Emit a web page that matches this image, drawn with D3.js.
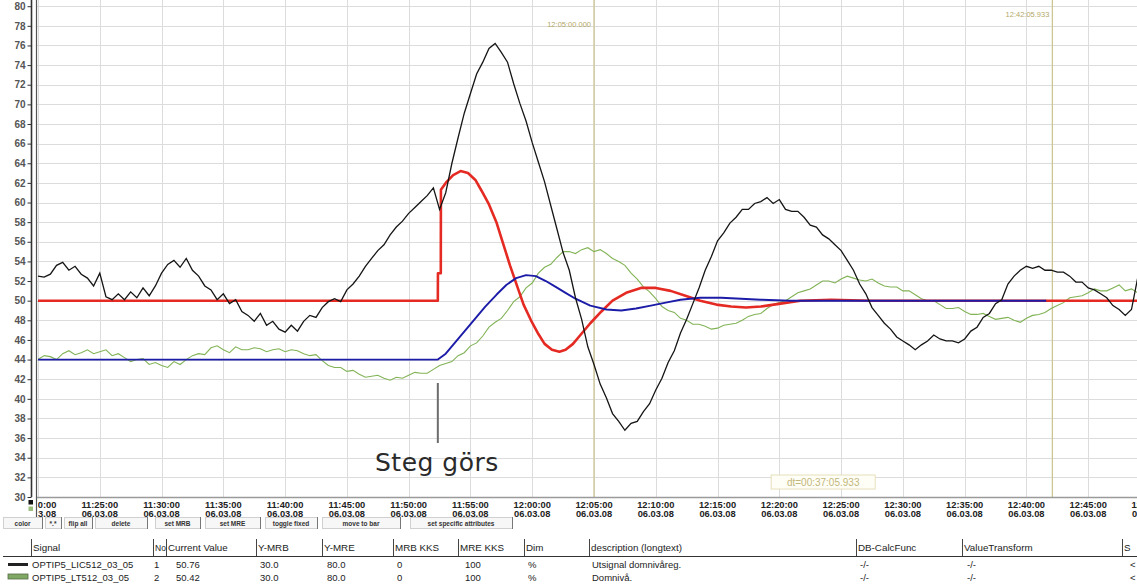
<!DOCTYPE html>
<html>
<head>
<meta charset="utf-8">
<script src="https://cdn.jsdelivr.net/npm/d3@7"></script>
<style>
  html, body { margin: 0; padding: 0; background: #fff; }
  svg { display: block; }
</style>
</head>
<body>
<svg id="chart" width="1137" height="585"></svg>
<script>
// ---- Trend data: level loop, step in the controller at 11:52:22 -------------
const windowStart = "2008-03-06T11:20:00";
const windowEnd   = "2008-03-06T12:50:00";

// Y ticks (percent)
const yTickValues = [30,32,34,36,38,40,42,44,46,48,50,52,54,56,58,60,62,64,66,68,70,72,74,76,78,80];

// Controller output (black), sampled every 0.5 min from 11:20:00
const outputPeriodMin = 0.5;
const outputValues = [
  52.5,52.4,52.7,53.6,53.9,53.1,53.5,52.7,52.3,51.5,
  52.8,50.4,50.1,50.7,50.1,50.9,50.3,51.3,50.5,51.5,
  52.8,53.7,54.1,53.4,54.3,53.1,52.5,51.5,51.1,50.1,
  50.7,49.7,50.1,48.9,48.5,47.9,48.7,47.5,47.9,47.1,
  46.8,47.5,46.9,47.9,48.5,48.3,49.3,49.9,50.2,49.9,
  51.1,51.7,52.5,53.5,54.3,55.1,55.7,56.7,57.5,58.1,
  58.9,59.5,60.1,60.7,61.5,59.3,61.0,64.0,66.6,69.1,
  71.1,73.1,74.3,75.7,76.2,75.3,74.3,72.1,70.1,68.3,
  66.1,64.1,62.1,59.7,57.3,54.9,53.1,50.3,48.1,45.3,
  43.5,41.5,40.1,38.5,37.7,36.8,37.5,37.7,38.7,39.5,
  40.9,42.1,43.7,44.9,46.7,48.1,49.7,51.3,53.1,54.5,
  56.1,56.9,57.9,58.5,59.3,59.3,59.9,60.1,60.5,59.9,
  60.3,59.3,59.1,59.1,58.5,57.7,57.5,56.7,56.3,55.7,
  55.1,54.1,53.1,51.7,50.7,49.3,48.5,47.7,47.1,46.3,
  45.9,45.5,45.0,45.5,45.9,46.5,46.1,45.9,45.9,45.7,
  46.1,46.9,47.3,48.3,48.7,49.7,50.1,51.7,52.5,53.1,
  53.5,53.3,53.5,53.1,53.1,52.9,52.9,52.5,51.9,51.9,
  51.3,51.1,50.7,50.3,49.5,49.1,48.5,49.1,52.3,52.7
];

// Level (green), sampled every 0.5 min from 11:20:00
const levelPeriodMin = 0.5;
const levelValues = [
  44.0,44.4,44.3,44.0,44.6,44.9,44.5,44.7,45.0,44.6,
  44.8,45.0,44.4,44.6,44.2,43.8,44.0,44.1,43.5,43.7,
  43.4,43.2,43.8,43.5,44.0,44.4,44.6,44.5,45.2,45.4,
  45.0,44.7,45.3,45.0,45.0,45.2,45.1,44.8,45.0,45.1,
  44.8,45.0,44.9,44.6,44.4,44.5,43.9,43.4,43.2,43.2,
  42.8,42.9,42.5,42.2,42.3,42.4,42.1,41.9,42.2,42.1,
  42.4,42.7,42.6,42.6,43.0,43.4,43.6,43.8,44.4,44.7,
  45.4,45.7,46.4,47.3,47.8,48.2,49.0,49.9,50.4,51.3,
  51.8,52.8,53.4,53.7,54.4,55.0,55.0,54.8,55.2,55.4,
  55.0,55.2,54.8,54.3,54.0,53.6,52.8,52.2,51.4,50.9,
  50.2,49.4,49.0,48.8,48.2,48.0,47.6,47.6,47.4,47.1,
  47.2,47.5,47.6,47.7,48.0,48.4,48.6,48.7,49.2,49.6,
  49.8,50.0,50.4,50.8,51.0,51.2,51.6,52.0,52.0,51.8,
  52.2,52.5,52.3,52.1,52.0,52.2,51.8,51.5,51.4,51.4,
  51.0,51.0,50.6,50.2,50.0,50.0,49.6,49.2,49.2,49.3,
  48.9,48.6,48.6,48.7,48.4,48.1,48.2,48.3,48.0,47.8,
  48.2,48.5,48.6,48.8,49.2,49.5,49.8,50.3,50.4,50.5,
  50.8,51.2,51.0,51.0,51.3,51.6,51.0,51.2,50.8,51.0,
  50.8
];

// Setpoint response (red): minutes after 11:20:00 and value
const redMinutes = [0,32.36,32.37,32.6,32.61,33.0,33.6,34.2,34.8,35.4,35.9,36.5,37.1,37.6,38.2,38.8,39.3,39.9,40.5,41.0,41.6,42.2,42.7,43.3,43.9,44.7,45.6,46.5,47.6,48.8,50.0,51.2,52.4,53.6,54.9,56.1,57.3,58.5,60.1,61.7,64.2,67.4,90];
const redValues  = [50,50,52.8,52.8,61.3,62.0,62.8,63.2,63.0,62.3,61.2,59.8,58.0,56.0,53.6,51.4,49.6,48.0,46.6,45.6,45.0,44.8,45.0,45.6,46.5,47.7,48.9,50.0,50.8,51.3,51.3,51.0,50.5,50.0,49.6,49.4,49.3,49.4,49.7,50.0,50.1,50.0,50.0];

// Model response (blue): minutes after 11:20:00 and value
const blueMinutes = [0,32.36,33.0,33.8,34.6,35.4,36.2,37.1,37.9,38.7,39.5,40.3,41.1,41.9,42.7,43.5,44.7,46.0,47.2,48.4,49.6,50.8,52.0,53.6,55.3,56.9,58.5,60.9,81.6];
const blueValues  = [44.0,44.0,44.6,45.8,47.0,48.2,49.4,50.6,51.6,52.3,52.6,52.5,52.0,51.4,50.8,50.2,49.5,49.1,49.0,49.2,49.5,49.8,50.1,50.3,50.3,50.2,50.1,50.0,50.0];

// Cursors
const cursorTimes  = ["2008-03-06T12:05:00.000", "2008-03-06T12:42:05.933"];
const cursorLabels = ["12:05:00.000", "12:42:05.933"];
const deltaLabel   = "dt=00:37:05.933";

// Step annotation
const stepMinute = 32.36;
const stepLabel  = "Steg görs";

// Toolbar
const buttonLabels = ["color", "*.*", "flip all", "delete", "set MRB", "set MRE", "toggle fixed", "move to bar", "set specific attributes"];

// Signal table
const tableHeaders = ["Signal", "No", "Current Value", "Y-MRB", "Y-MRE", "MRB KKS", "MRE KKS", "Dim", "description (longtext)", "DB-CalcFunc", "ValueTransform", "S"];
const signalRow1 = ["OPTIP5_LIC512_03_05", "1", "50.76", "30.0", "80.0", "0", "100", "%", "Utsignal domnivåreg.", "-/-", "-/-", "<"];
const signalRow2 = ["OPTIP5_LT512_03_05", "2", "50.42", "30.0", "80.0", "0", "100", "%", "Domnivå.", "-/-", "-/-", "<"];

// ---- Drawing ---------------------------------------------------------------
const svg = d3.select("#chart");
const W = 1137, H = 585;
const plot = { left: 37, right: 1137, top: 0, bottom: 497 };

const t0 = new Date(windowStart), t1 = new Date(windowEnd);
const x = d3.scaleTime().domain([t0, t1]).range([38, 1150]);
const y = d3.scaleLinear().domain([30, 80]).range([497, 6.2]);
const atMin = m => new Date(t0.getTime() + m * 60000);

const defs = svg.append("defs");
defs.append("clipPath").attr("id", "plotClip")
  .append("rect").attr("x", plot.left).attr("y", 0)
  .attr("width", plot.right - plot.left).attr("height", plot.bottom);
defs.append("clipPath").attr("id", "xLabClip")
  .append("rect").attr("x", plot.left + 1).attr("y", plot.bottom)
  .attr("width", plot.right - plot.left).attr("height", 30);

const tickFont = "'Liberation Sans',Arial,sans-serif";
const uiFont = "'Liberation Sans',Arial,sans-serif";

// Grid
const grid = svg.append("g").attr("clip-path", "url(#plotClip)");
grid.selectAll("line.h").data(yTickValues).join("line")
  .attr("x1", plot.left).attr("x2", plot.right)
  .attr("y1", d => Math.round(y(d)) + 0.5).attr("y2", d => Math.round(y(d)) + 0.5)
  .attr("stroke", "#dcdcdc").attr("stroke-width", 1);
const vGrid = d3.timeMinute.every(1).range(t0, t1).filter(d => (d - t0) % 150000 === 0);
grid.selectAll("line.v").data(vGrid).join("line")
  .attr("x1", d => Math.round(x(d)) + 0.5).attr("x2", d => Math.round(x(d)) + 0.5)
  .attr("y1", 0).attr("y2", plot.bottom)
  .attr("stroke", "#dcdcdc").attr("stroke-width", 1);

// Cursors
const cursorCol = "#cdc592";
const cx = cursorTimes.map(s => x(new Date(s)));
svg.selectAll("line.cursor").data(cx).join("line")
  .attr("x1", d => d).attr("x2", d => d).attr("y1", 0).attr("y2", plot.bottom)
  .attr("stroke", cursorCol).attr("stroke-width", 1.3);
svg.selectAll("text.cursorLab").data(cursorLabels).join("text")
  .attr("x", (d, i) => cx[i] - 3).attr("y", (d, i) => i === 0 ? 27 : 17)
  .attr("text-anchor", "end").attr("font-family", uiFont).attr("font-size", 7.5)
  .attr("fill", "#b4a868").text(d => d);
const dtMid = (cx[0] + cx[1]) / 2;
svg.append("rect").attr("x", dtMid - 52).attr("y", 475).attr("width", 104).attr("height", 14)
  .attr("fill", "#fffef6").attr("stroke", "#e6e0bc").attr("stroke-width", 1);
svg.append("text").attr("x", dtMid).attr("y", 486).attr("text-anchor", "middle")
  .attr("font-family", uiFont).attr("font-size", 10).attr("fill", "#c2b77a").text(deltaLabel);

// Series
const series = svg.append("g").attr("clip-path", "url(#plotClip)");
const line = d3.line().x(d => x(d.t)).y(d => y(d.v));

const levelData = levelValues.map((v, i) => ({ t: atMin(i * levelPeriodMin), v }));
const outputData = outputValues.map((v, i) => ({ t: atMin(i * outputPeriodMin), v }));
const redData = redMinutes.map((m, i) => ({ t: atMin(m), v: redValues[i] }));
const blueData = blueMinutes.map((m, i) => ({ t: atMin(m), v: blueValues[i] }));

series.append("path").datum(levelData).attr("d", line)
  .attr("fill", "none").attr("stroke", "#82b356").attr("stroke-width", 1.1);
series.append("path").datum(redData).attr("d", line)
  .attr("fill", "none").attr("stroke", "#e42a22").attr("stroke-width", 2.6).attr("stroke-linejoin", "round");
series.append("path").datum(blueData).attr("d", line)
  .attr("fill", "none").attr("stroke", "#1c1ca8").attr("stroke-width", 1.9).attr("stroke-linejoin", "round");
series.append("path").datum(outputData).attr("d", line)
  .attr("fill", "none").attr("stroke", "#151515").attr("stroke-width", 1.3).attr("stroke-linejoin", "miter");

// Y axis
const yAxis = d3.axisLeft(y).tickValues(yTickValues).tickSize(4).tickPadding(2).tickFormat(d3.format("d"));
const yg = svg.append("g").attr("transform", "translate(31.5,0)").call(yAxis);
yg.select(".domain").attr("stroke", "#333").attr("stroke-width", 1.6).attr("d", "M0,0V497");
yg.selectAll(".tick line").attr("stroke", "#333");
yg.selectAll(".tick text").attr("font-family", tickFont).attr("font-weight", "bold")
  .attr("font-size", 10).attr("fill", "#555");
svg.append("line").attr("x1", 36.5).attr("x2", 36.5).attr("y1", 0).attr("y2", 522)
  .attr("stroke", "#555").attr("stroke-width", 1.2);

// X axis
svg.append("line").attr("x1", plot.left).attr("x2", plot.right)
  .attr("y1", plot.bottom + 0.5).attr("y2", plot.bottom + 0.5)
  .attr("stroke", "#9a9a9a").attr("stroke-width", 1.6);
const xTicks = d3.timeMinute.every(5).range(t0, new Date(t1.getTime() + 1));
const fTime = d3.timeFormat("%H:%M:%S"), fDate = d3.timeFormat("%d.%m.%y");
const xl = svg.append("g").attr("clip-path", "url(#xLabClip)")
  .selectAll("text").data(xTicks).join("text")
  .attr("x", d => x(d)).attr("y", 507.5)
  .attr("text-anchor", "middle").attr("font-family", tickFont).attr("font-weight", "bold")
  .attr("font-size", 9.3).attr("fill", "#222");
xl.append("tspan").attr("x", d => x(d)).attr("dy", 0).text(d => fTime(d));
xl.append("tspan").attr("x", d => x(d)).attr("dy", 9).text(d => fDate(d));

// Legend squares at the axis corner
svg.append("rect").attr("x", 28.5).attr("y", 500).attr("width", 4.5).attr("height", 4.5).attr("fill", "#111");
svg.append("rect").attr("x", 28.5).attr("y", 506.5).attr("width", 4.5).attr("height", 4.5).attr("fill", "#9bbf7a");

// Step annotation
svg.append("line").attr("x1", x(atMin(stepMinute))).attr("x2", x(atMin(stepMinute)))
  .attr("y1", 383).attr("y2", 443).attr("stroke", "#6d6d6d").attr("stroke-width", 2);
svg.append("text").attr("x", 375).attr("y", 471)
  .attr("font-family", "'DejaVu Sans',Verdana,sans-serif").attr("font-size", 25)
  .attr("letter-spacing", 0.5).attr("fill", "#2a2a2a").text(stepLabel);

// Toolbar buttons
const btnSpans = [[3, 42], [45, 61], [64, 92], [95, 147], [155, 200], [205, 260], [265, 317], [322, 400], [410, 512]];
const btn = svg.append("g").selectAll("g").data(buttonLabels).join("g");
btn.append("rect")
  .attr("x", (d, i) => btnSpans[i][0] + 0.5).attr("y", 517.5)
  .attr("width", (d, i) => btnSpans[i][1] - btnSpans[i][0]).attr("height", 11)
  .attr("fill", "#f7f7f7").attr("stroke", "#d0d0d0");
btn.append("line")
  .attr("x1", (d, i) => btnSpans[i][1] + 0.5).attr("x2", (d, i) => btnSpans[i][1] + 0.5)
  .attr("y1", 517).attr("y2", 529).attr("stroke", "#777");
btn.append("text")
  .attr("x", (d, i) => (btnSpans[i][0] + btnSpans[i][1]) / 2).attr("y", 525.5)
  .attr("text-anchor", "middle").attr("font-family", uiFont).attr("font-size", 6.5)
  .attr("font-weight", "bold").attr("fill", "#333").text(d => d);

// Signal table
const colX = [33, 155, 168, 258, 324, 395, 460, 526, 591, 858, 964, 1124];
const valX = [32, 154, 176, 260, 327, 397, 465, 528, 592, 860, 967, 1130];
const tbl = svg.append("g").attr("font-family", uiFont).attr("fill", "#222");
tbl.selectAll("line.sep").data(colX).join("line")
  .attr("x1", d => d - 1.5).attr("x2", d => d - 1.5).attr("y1", 539).attr("y2", 556)
  .attr("stroke", "#444").attr("stroke-width", 1);
tbl.selectAll("text.hdr").data(tableHeaders).join("text")
  .attr("x", (d, i) => colX[i]).attr("y", 551)
  .attr("font-size", (d, i) => i === 1 ? 8.5 : 9.8).text(d => d);
tbl.append("line").attr("x1", 3).attr("x2", W).attr("y1", 556.5).attr("y2", 556.5)
  .attr("stroke", "#333").attr("stroke-width", 1.2);
tbl.selectAll("text.r1").data(signalRow1).join("text")
  .attr("x", (d, i) => valX[i]).attr("y", 568).attr("font-size", 9.5).text(d => d);
tbl.selectAll("text.r2").data(signalRow2).join("text")
  .attr("x", (d, i) => valX[i]).attr("y", 581).attr("font-size", 9.5).text(d => d);
svg.append("line").attr("x1", 8).attr("x2", 28).attr("y1", 564.5).attr("y2", 564.5)
  .attr("stroke", "#222").attr("stroke-width", 3);
svg.append("rect").attr("x", 8).attr("y", 574).attr("width", 20).attr("height", 5)
  .attr("fill", "#7fa864").attr("stroke", "#556b45").attr("stroke-width", 0.8);
</script>
</body>
</html>
